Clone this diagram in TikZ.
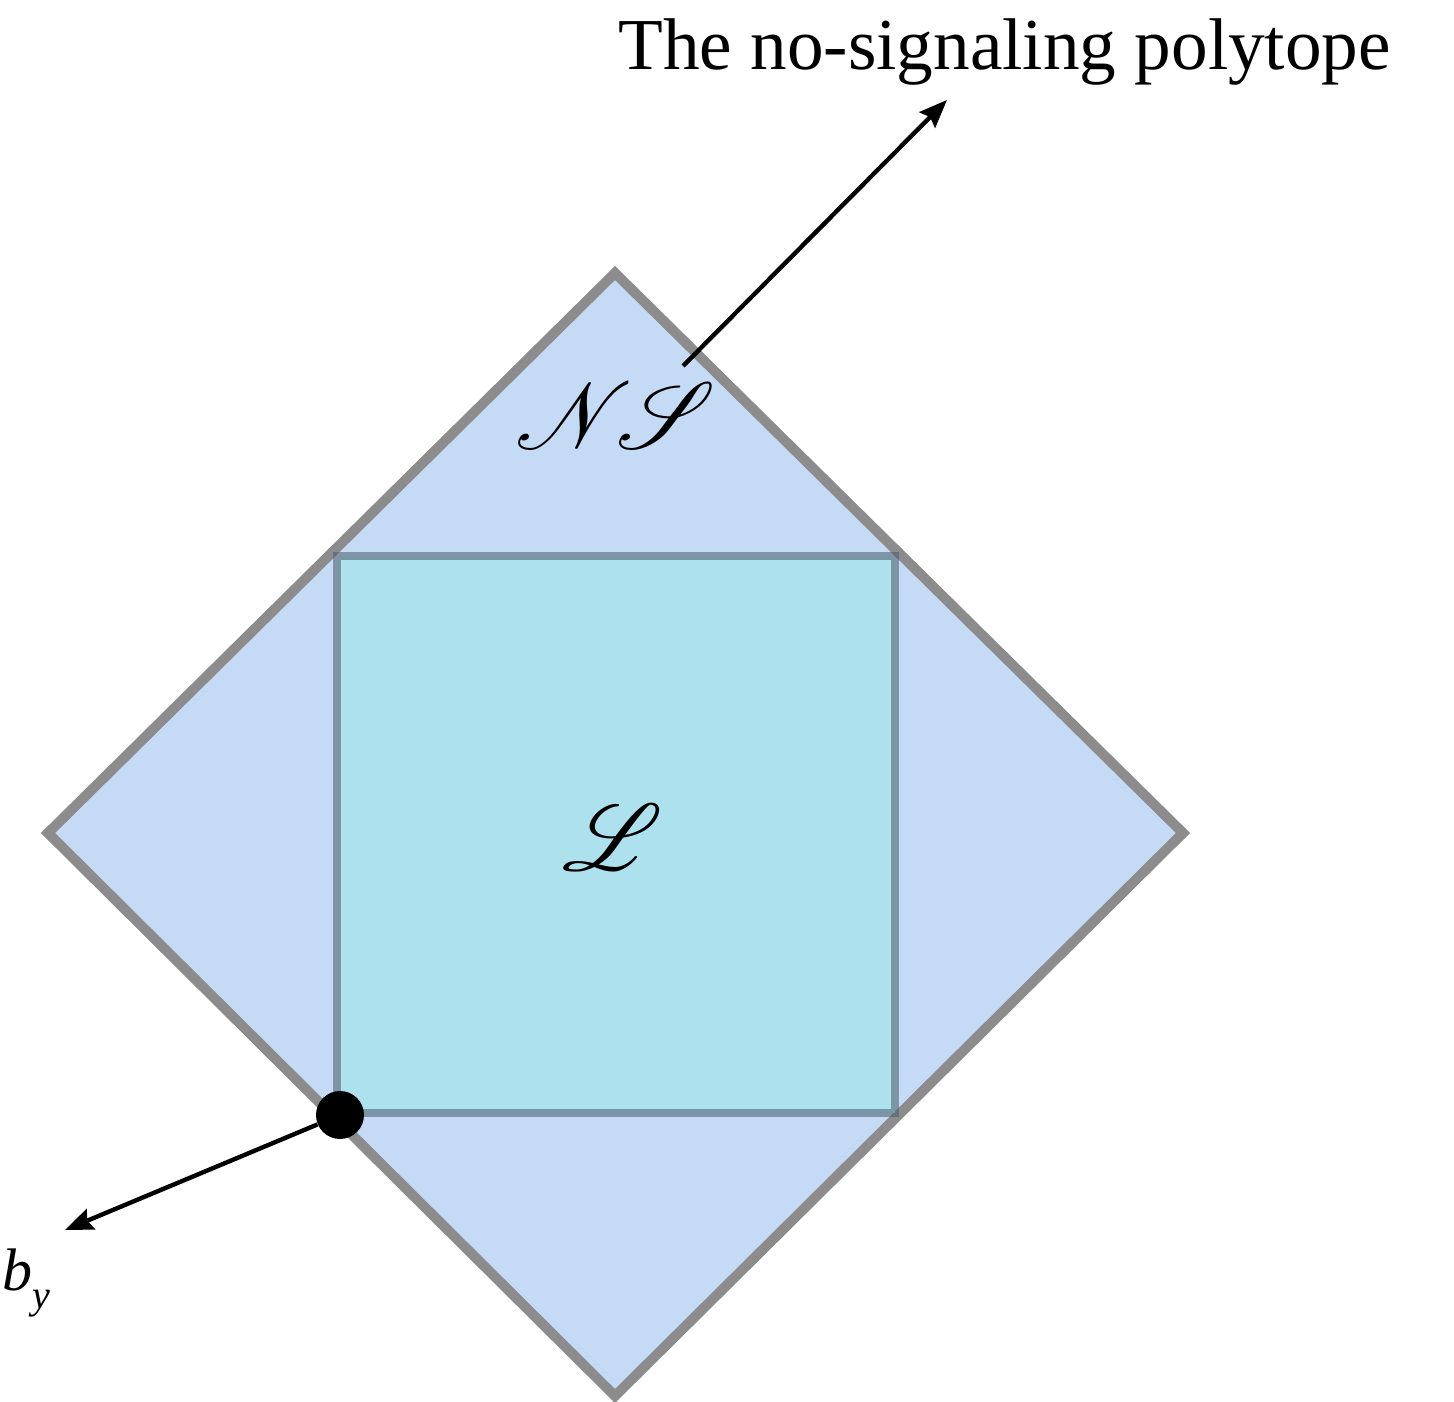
\documentclass[tikz,border=0pt]{standalone}
\usepackage{fontspec}
\setmainfont{Liberation Serif}
\usepackage{mathrsfs}
\usetikzlibrary{arrows.meta}
\definecolor{nsblue}{HTML}{C5DAF5}
\definecolor{nsgray}{HTML}{8C8C8C}
\definecolor{loccyan}{HTML}{AEE1EE}
\definecolor{locgray}{HTML}{4A5A6C}
\newcommand{\bigset}[1]{\scalebox{4.7}{$#1$}}
\begin{document}
\begin{tikzpicture}[x=0.5pt,y=-0.5pt,
  polytope/.style={draw=nsgray,line width=5pt,fill=nsblue,line join=miter},
  localset/.style={draw=locgray,draw opacity=0.55,line width=4pt,fill=loccyan},
  pointer/.style={-{Stealth[length=14pt,width=11pt,inset=2pt]},line width=2.2pt},
  setlabel/.style={inner sep=0pt},
  vertexdot/.style={circle,fill=black,minimum size=24pt,inner sep=0pt}
]
\useasboundingbox (0,0) rectangle (1454,1401);
% polytopes
\draw[polytope] (615,273) -- (1183,833) -- (615,1396) -- (48,833) -- cycle;
\draw[localset] (337,556) rectangle (895,1113);
\node[setlabel] (ns) at (616,416) {\bigset{\mathscr{N}\hspace{-1.8pt}\mathscr{S}}};
\node[setlabel] (loc) at (613,838) {\bigset{\mathscr{L}}};
% labels and pointers
\node[font=\fontsize{36.6}{36.6}\selectfont,anchor=base west,inner sep=0pt] (title) at (618,70) {The no-signaling polytope};
\coordinate (nsfoot) at (683,366);
\coordinate (nshead) at (947,100);
\draw[pointer] (nsfoot) -- (nshead);
\node[vertexdot] (vertex) at (340,1115) {};
\coordinate (byhead) at (65,1230);
\draw[pointer] (vertex) -- (byhead);
\node[font=\fontsize{30}{30}\selectfont\itshape,inner sep=0pt] (by) at (26,1283) {b\raisebox{-0.3em}{\fontsize{20}{20}\selectfont y}};
\end{tikzpicture}
\end{document}
